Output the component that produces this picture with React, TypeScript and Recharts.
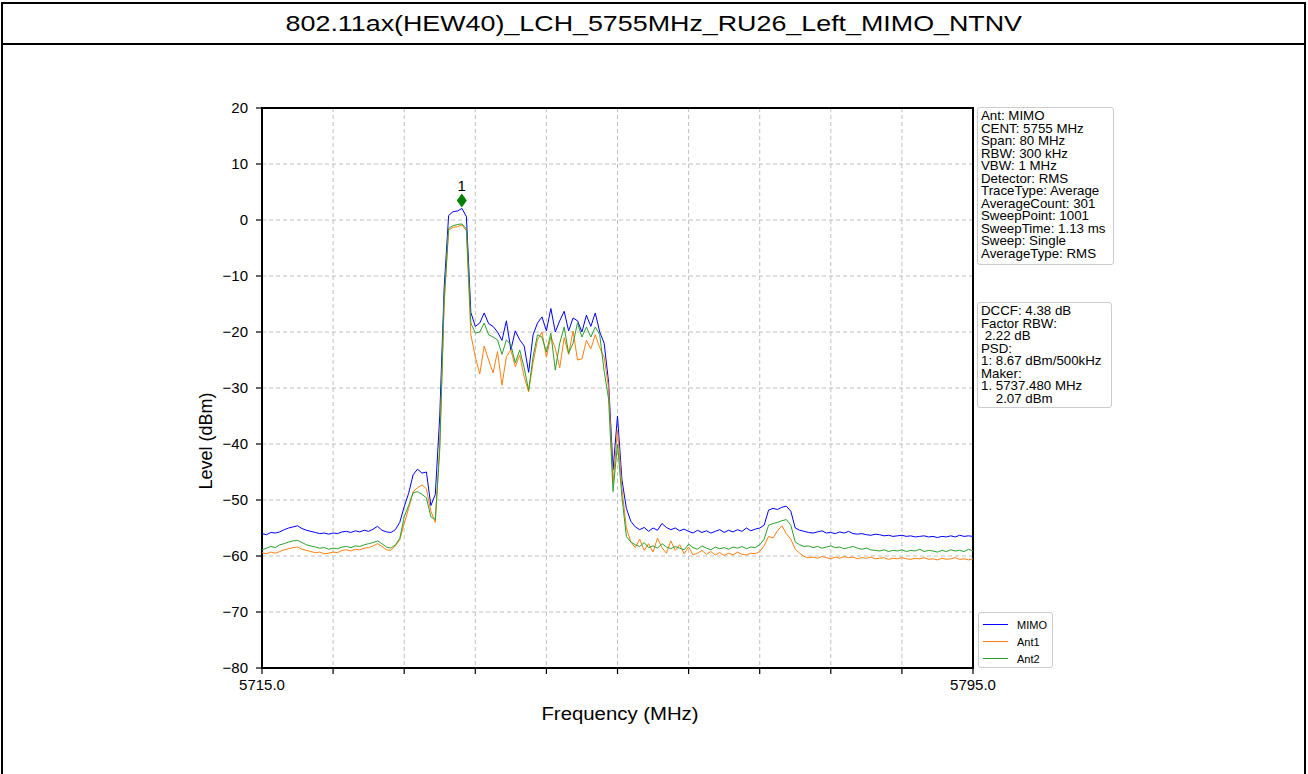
import React from 'react';
import { LineChart, Line, XAxis, YAxis, CartesianGrid, ReferenceArea, ReferenceDot } from 'recharts';

const FONT = '"Liberation Sans", Arial, sans-serif';

// sweep: 5715 .. 5795 MHz, one sample every 0.5 MHz
const FREQ_START = 5715;
const FREQ_STEP = 0.5;

// levels in dBm
const MIMO = [
  -56.0, -56.2, -55.8, -55.9, -55.7, -55.3, -55.0, -54.8, -54.6, -55.1,
  -55.4, -55.6, -55.8, -56.0, -55.9, -56.1, -55.9, -56.0, -55.7, -55.6,
  -55.8, -55.5, -55.7, -55.4, -55.6, -55.2, -54.7, -55.4, -55.7, -55.8,
  -55.3, -54.0, -51.2, -48.8, -45.5, -44.5, -45.2, -45.0, -51.0, -49.0,
  -35.0, -12.0, 0.8, 1.5, 1.6, 2.07, 0.6, -16.5, -19.0, -18.4,
  -16.6, -18.5, -19.0, -20.0, -21.5, -18.0, -23.2, -19.8, -21.4, -22.5,
  -27.2, -20.5, -18.4, -17.3, -19.8, -15.8, -20.0, -18.0, -16.3, -19.8,
  -17.5, -18.0, -20.0, -17.0, -19.0, -16.6, -20.0, -22.0, -29.0, -44.6,
  -35.0, -46.4, -51.5, -53.8, -54.8, -55.3, -54.9, -55.6, -55.0, -55.4,
  -54.2, -54.9, -55.3, -55.0, -55.5, -55.2, -55.6, -55.9, -55.4, -55.8,
  -55.5, -55.9, -55.6, -55.3, -55.8, -55.4, -55.7, -55.3, -55.6, -55.0,
  -55.5, -55.2, -55.0, -54.5, -51.8, -51.5, -51.7, -51.3, -51.1, -52.0,
  -55.0, -55.4, -55.6, -55.8, -55.9, -55.7, -55.5, -55.9, -55.8, -56.0,
  -55.7, -55.9, -55.6, -56.0, -56.1, -56.0, -56.2, -56.3, -56.1, -56.2,
  -56.4, -56.3, -56.5, -56.4, -56.3, -56.5, -56.4, -56.6, -56.5, -56.4,
  -56.6, -56.5, -56.7, -56.5, -56.6, -56.4, -56.6, -56.3, -56.5, -56.4,
  -56.5,
];

const ANT1 = [
  -59.4, -59.6, -59.3, -59.5, -59.2, -58.9, -58.7, -58.5, -58.4, -58.8,
  -59.0, -59.2, -59.4, -59.3, -59.6, -59.5, -59.3, -59.4, -59.0, -58.9,
  -59.1, -58.8, -58.9, -58.6, -58.5, -58.2, -57.8, -58.3, -58.9, -59.0,
  -58.2, -57.1, -54.2, -51.5, -48.5, -47.8, -47.3, -48.0, -52.0, -54.0,
  -40.0, -15.0, -1.8, -1.3, -1.2, -0.9, -1.9, -20.5, -24.4, -27.5,
  -22.5, -25.0, -27.3, -23.5, -29.5, -24.4, -23.2, -26.2, -24.1, -28.0,
  -30.7, -25.5, -21.4, -20.0, -24.5, -20.8, -22.9, -26.4, -21.0, -24.0,
  -19.8, -25.0, -24.8, -21.5, -23.0, -20.5, -22.8, -24.5, -30.0, -47.0,
  -37.5, -48.0, -55.0, -57.5, -58.5, -57.0, -59.0, -57.8, -59.3, -56.8,
  -58.5, -59.5, -57.3, -59.0, -58.0, -59.6, -58.4, -59.8, -59.5, -59.0,
  -59.7, -59.2, -59.8, -59.4, -59.9, -59.5, -59.8, -59.3, -59.7, -59.8,
  -59.5, -59.6, -59.2, -58.2, -56.5, -56.8, -55.5, -54.6, -56.0, -57.0,
  -58.8, -59.5, -60.1, -60.3, -60.2, -60.4, -60.1, -60.3, -60.5, -60.2,
  -60.4, -60.1, -60.3, -60.2, -60.5, -60.3, -60.4, -60.2, -60.5, -60.4,
  -60.3, -60.6, -60.4, -60.5, -60.3, -60.5, -60.6, -60.4, -60.5, -60.3,
  -60.6, -60.5, -60.7, -60.4, -60.6, -60.5, -60.3, -60.6, -60.5, -60.7,
  -60.5,
];

const ANT2 = [
  -58.9, -58.6, -58.3, -58.5, -58.0, -57.8, -57.5, -57.3, -57.2, -57.6,
  -58.0, -58.2, -58.4, -58.6, -58.5, -58.8, -58.6, -58.7, -58.4, -58.3,
  -58.5, -58.2, -58.3, -58.0, -57.8, -57.6, -57.3, -57.8, -58.4, -58.6,
  -58.0, -56.9, -53.0, -51.0, -48.7, -48.5, -49.0, -49.6, -53.0, -53.5,
  -41.0, -14.0, -1.5, -1.0, -0.8, -0.7, -1.6, -18.4, -20.2, -20.0,
  -18.4, -20.5, -20.9, -21.4, -24.0, -21.4, -22.3, -25.5, -23.2, -26.4,
  -30.4, -24.4, -20.5, -20.9, -23.6, -20.2, -26.8, -22.0, -19.1, -23.8,
  -22.0, -18.4, -20.9, -19.1, -20.9, -19.1, -20.5, -27.0, -32.0, -48.5,
  -40.0, -49.5, -56.5, -57.5, -58.0, -58.3, -57.6, -58.5, -58.2, -58.6,
  -57.8, -58.4, -58.7, -58.3, -58.6, -58.9, -57.9, -58.5, -58.8, -58.2,
  -58.6, -58.9, -58.4, -58.7, -58.5, -58.8, -58.4, -58.6, -58.3, -58.7,
  -58.4, -58.5, -58.0, -57.0, -54.5, -54.2, -54.0, -53.7, -53.5, -54.5,
  -57.5, -58.0, -58.3, -58.2, -58.5, -58.3, -58.6, -58.4, -58.2, -58.5,
  -58.4, -58.7, -58.5, -58.3, -58.6, -58.8, -58.6, -58.9, -59.0, -59.1,
  -58.9, -59.2, -59.0, -59.1, -58.9, -59.2, -59.0, -59.1, -58.8, -59.2,
  -59.0, -59.1, -59.3, -59.0, -59.2, -58.9, -59.1, -59.0, -59.2, -58.8,
  -59.1,
];

const X_TICKS = [5715, 5723, 5731, 5739, 5747, 5755, 5763, 5771, 5779, 5787, 5795];
const X_LABELED = [5715, 5795];
const Y_TICKS = [-80, -70, -60, -50, -40, -30, -20, -10, 0, 10, 20];

const MARKER_FREQ = 5737.48;
const MARKER_LEVEL = 2.07;

const SETTINGS = [
  'Ant: MIMO',
  'CENT: 5755 MHz',
  'Span: 80 MHz',
  'RBW: 300 kHz',
  'VBW: 1 MHz',
  'Detector: RMS',
  'TraceType: Average',
  'AverageCount: 301',
  'SweepPoint: 1001',
  'SweepTime: 1.13 ms',
  'Sweep: Single',
  'AverageType: RMS',
];

const RESULTS = [
  'DCCF: 4.38 dB',
  'Factor RBW:',
  ' 2.22 dB',
  'PSD:',
  '1: 8.67 dBm/500kHz',
  'Maker:',
  '1. 5737.480 MHz',
  '    2.07 dBm',
];

const SERIES = [
  { key: 'mimo', name: 'MIMO', color: '#0000ff' },
  { key: 'ant1', name: 'Ant1', color: '#ff7f0e' },
  { key: 'ant2', name: 'Ant2', color: '#2ca02c' },
];

const data = MIMO.map((v, i) => ({
  freq: FREQ_START + i * FREQ_STEP,
  mimo: v,
  ant1: ANT1[i],
  ant2: ANT2[i],
}));

const markerShape = (props: any) => {
  const { cx, cy } = props;
  const top = cy - 15;
  return (
    <g>
      <polygon
        points={`${cx},${top} ${cx + 5},${top + 7} ${cx},${top + 14} ${cx - 5},${top + 7}`}
        fill="#008000"
      />
      <text x={cx} y={top - 2} textAnchor="middle" fontSize={15} fill="#000" fontFamily={FONT}>
        1
      </text>
    </g>
  );
};

const boxStyle: React.CSSProperties = {
  position: 'absolute',
  border: '1px solid #cccccc',
  borderRadius: 3,
  background: '#fff',
  boxSizing: 'border-box',
  fontSize: 13.3,
  lineHeight: '12.5px',
  whiteSpace: 'pre',
  paddingLeft: 3,
  color: '#000',
};

export default function App() {
  return (
    <div
      style={{
        position: 'absolute',
        left: 0,
        top: 0,
        width: 1308,
        height: 774,
        background: '#fff',
        fontFamily: FONT,
        overflow: 'hidden',
      }}
    >
      {/* table frame around the picture */}
      <div
        style={{
          position: 'absolute',
          left: 1,
          top: 2,
          width: 1305,
          height: 800,
          border: '2px solid #000',
          boxSizing: 'border-box',
        }}
      />
      <div style={{ position: 'absolute', left: 1, top: 43, width: 1305, height: 2, background: '#000' }} />
      <div
        style={{
          position: 'absolute',
          left: 0,
          top: 4,
          width: 1308,
          height: 39,
          display: 'flex',
          alignItems: 'center',
          justifyContent: 'center',
        }}
      >
        <span style={{ display: 'inline-block', fontSize: 22, transform: 'scaleX(1.22)' }}>
          802.11ax(HEW40)_LCH_5755MHz_RU26_Left_MIMO_NTNV
        </span>
      </div>

      <div style={{ position: 'absolute', left: 0, top: 0 }}>
        <LineChart
          width={1308}
          height={774}
          data={data}
          margin={{ top: 108, right: 335, bottom: 76, left: 202 }}
        >
          <CartesianGrid stroke="#b0b0b0" strokeDasharray="4 3" strokeWidth={0.8} />
          <XAxis
            dataKey="freq"
            type="number"
            domain={[5715, 5795]}
            ticks={X_TICKS}
            interval={0}
            height={30}
            tickSize={6}
            tickMargin={5}
            axisLine={false}
            tickLine={{ stroke: '#000', strokeWidth: 1.2 }}
            tick={{ fill: '#000', fontSize: 15, fontFamily: FONT }}
            tickFormatter={(v: number) => (X_LABELED.includes(v) ? v.toFixed(1) : '')}
          />
          <YAxis
            type="number"
            domain={[-80, 20]}
            ticks={Y_TICKS}
            interval={0}
            width={60}
            tickSize={6}
            tickMargin={8}
            axisLine={false}
            tickLine={{ stroke: '#000', strokeWidth: 1.2 }}
            tick={{ fill: '#000', fontSize: 15, fontFamily: FONT }}
            tickFormatter={(v: number) => String(v).replace('-', '\u2212')}
          />
          {SERIES.map((s) => (
            <Line
              key={s.key}
              dataKey={s.key}
              name={s.name}
              type="linear"
              stroke={s.color}
              strokeWidth={1}
              dot={false}
              activeDot={false}
              isAnimationActive={false}
            />
          ))}
          <ReferenceArea
            x1={5715}
            x2={5795}
            y1={-80}
            y2={20}
            fill="none"
            fillOpacity={0}
            stroke="#000"
            strokeWidth={2}
          />
          <ReferenceDot x={MARKER_FREQ} y={MARKER_LEVEL} shape={markerShape} />
        </LineChart>
      </div>

      {/* axis titles */}
      <div
        style={{
          position: 'absolute',
          left: 540,
          top: 704,
          width: 160,
          textAlign: 'center',
          fontSize: 18,
          transform: 'scaleX(1.13)',
        }}
      >
        Frequency (MHz)
      </div>
      <div
        style={{
          position: 'absolute',
          left: 206 - 60,
          top: 441 - 11,
          width: 120,
          textAlign: 'center',
          fontSize: 18,
          lineHeight: '22px',
          transform: 'rotate(-90deg)',
        }}
      >
        Level (dBm)
      </div>

      {/* info boxes */}
      <div style={{ ...boxStyle, left: 977, top: 107, width: 137, height: 158, paddingTop: 2 }}>
        {SETTINGS.join('\n')}
      </div>
      <div style={{ ...boxStyle, left: 977, top: 302, width: 135, height: 106, paddingTop: 2 }}>
        {RESULTS.join('\n')}
      </div>

      {/* legend */}
      <div
        style={{
          position: 'absolute',
          left: 978,
          top: 612,
          width: 75,
          height: 56,
          border: '1px solid #cccccc',
          borderRadius: 3,
          background: '#fff',
          boxSizing: 'border-box',
        }}
      >
        {SERIES.map((s, i) => (
          <div
            key={s.key}
            style={{
              position: 'absolute',
              left: 4,
              top: 3 + i * 17,
              height: 17,
              display: 'flex',
              alignItems: 'center',
              fontSize: 11,
            }}
          >
            <span style={{ display: 'inline-block', width: 25, height: 1.5, background: s.color, marginRight: 9 }} />
            <span>{s.name}</span>
          </div>
        ))}
      </div>
    </div>
  );
}
